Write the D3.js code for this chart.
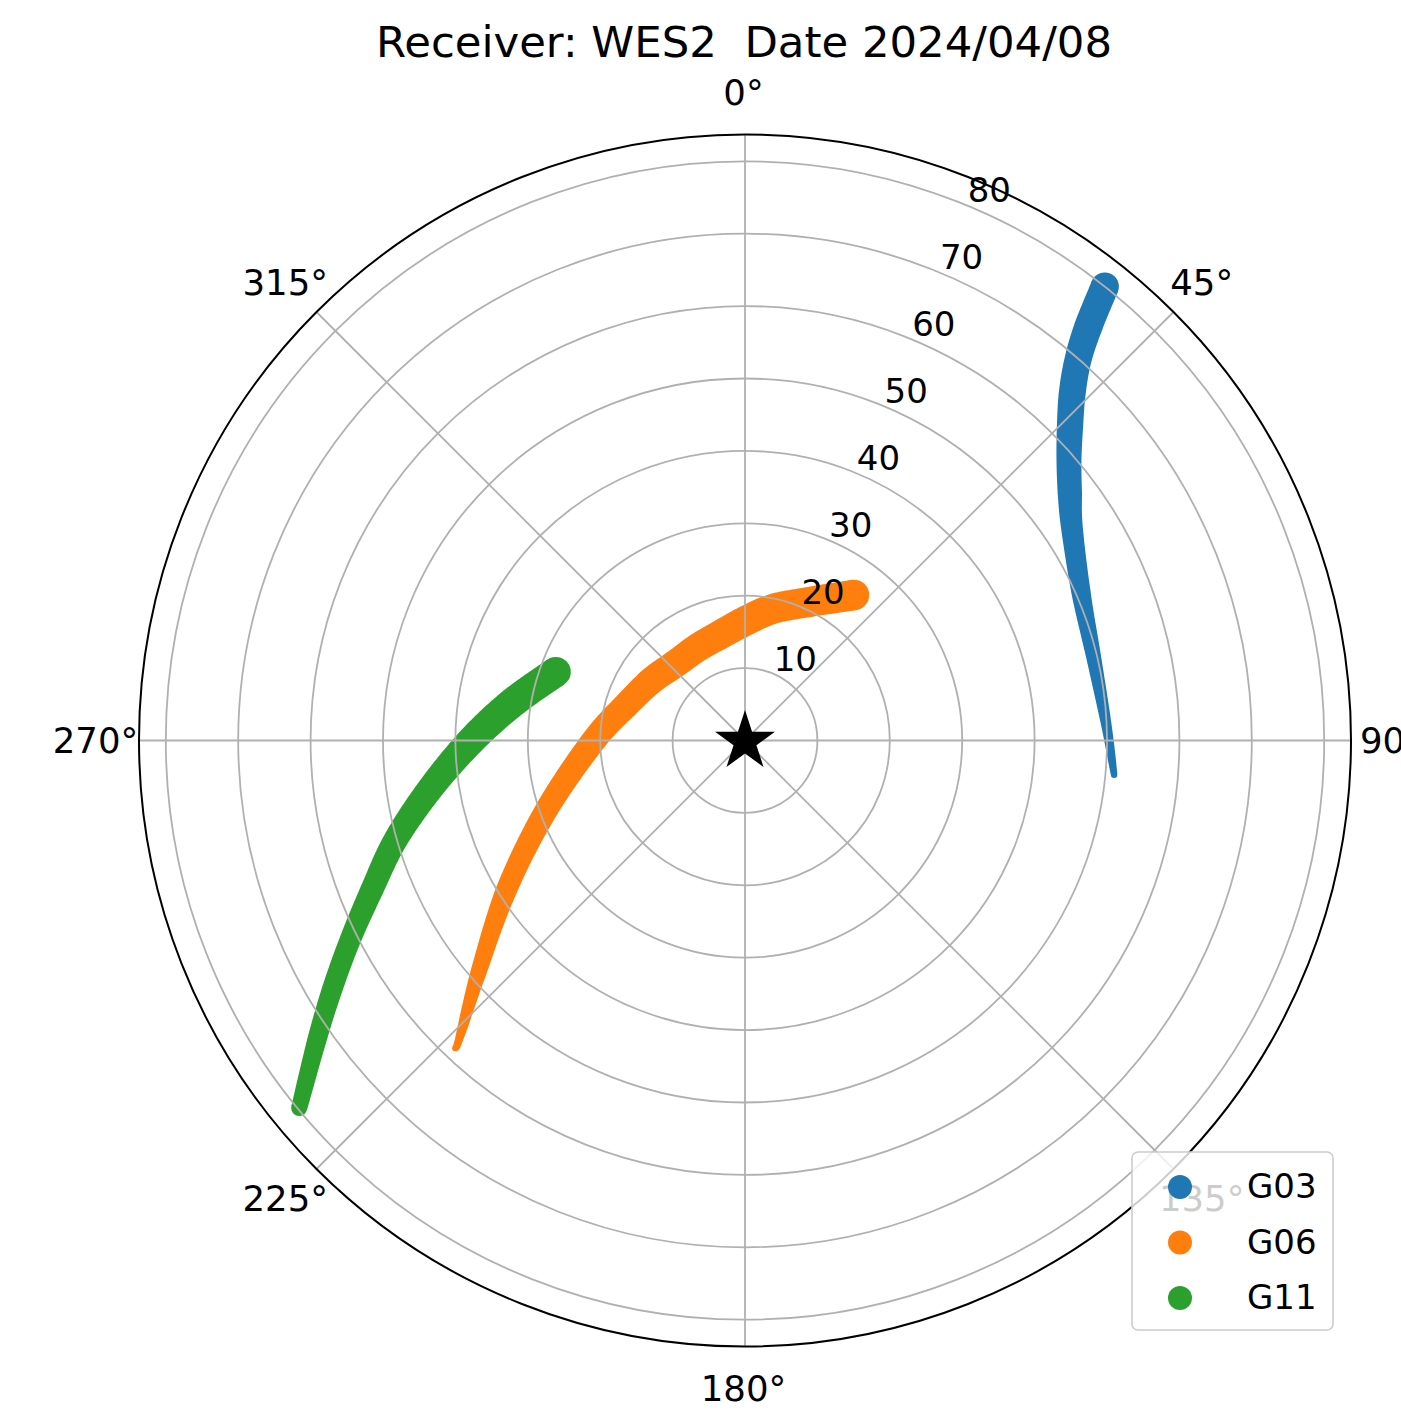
<!DOCTYPE html>
<html>
<head>
<meta charset="utf-8">
<script src="https://cdn.jsdelivr.net/npm/d3@7"></script>
<style>
  html, body { margin: 0; padding: 0; background: #fff; }
  svg { display: block; }
  text { font-family: "DejaVu Sans", sans-serif; }
</style>
</head>
<body>
<script>
// ---------- data ----------
const chartTitle = "Receiver: WES2  Date 2024/04/08";
const satellites = ["G03", "G06", "G11"];

// azimuth (deg, clockwise from north), radial value, signal strength (marker size)
const g03Az  = [38.4, 39.7, 41.2, 43.3, 46.0, 49.1, 52.7, 56.9, 66.3, 77.0, 87.9, 95.3];
const g03Rad = [80.0, 74.2, 69.8, 65.9, 62.4, 59.2, 56.4, 53.9, 50.7, 49.5, 50.0, 51.2];
const g03Snr = [44, 44, 42, 42, 41, 39, 38, 34, 30, 23, 16, 10];

const g06Az  = [36.8, 24.1, 12.1, 0.8, 346.7, 333.0, 318.0, 303.0, 288.0, 270.0, 250.5, 237.9, 228.9, 223.7, 223.3];
const g06Rad = [25.1, 20.9, 18.6, 16.6, 15.0, 14.4, 14.3, 15.3, 16.9, 20.9, 29.2, 38.9, 48.9, 57.2, 58.4];
const g06Snr = [48, 47, 47, 47, 46, 45, 44, 43, 41, 39, 36, 33, 25, 12.5, 9];

const g11Az  = [289.9, 279.1, 270.0, 261.4, 254.1, 248.2, 243.2, 238.9, 235.0, 230.5];
const g11Rad = [27.8, 32.6, 37.8, 43.9, 50.2, 55.5, 61.1, 66.6, 72.2, 79.8];
const g11Snr = [47, 47, 45, 41, 38, 36, 33, 32, 30, 25];

const radialTicks = [10, 20, 30, 40, 50, 60, 70, 80];
const angleTicks = [0, 45, 90, 135, 180, 225, 270, 315];
const radialMax = 83.7;

// ---------- layout ----------
const W = 1401, H = 1415;
const cx = 745, cy = 740.5, R = 606;
const colors = ["#1f77b4", "#ff7f0e", "#2ca02c"];

const svg = d3.select("body").append("svg").attr("width", W).attr("height", H);

const rScale = d3.scaleLinear().domain([0, radialMax]).range([0, R]);
const sizeScale = d3.scaleLinear().domain([0, 50]).range([0, 16]);
const toRad = d => d * Math.PI / 180;
const px = (az, r) => cx + rScale(r) * Math.sin(toRad(az));
const py = (az, r) => cy - rScale(r) * Math.cos(toRad(az));

const series = [
  { name: satellites[0], az: g03Az, rad: g03Rad, snr: g03Snr, color: colors[0] },
  { name: satellites[1], az: g06Az, rad: g06Rad, snr: g06Snr, color: colors[1] },
  { name: satellites[2], az: g11Az, rad: g11Rad, snr: g11Snr, color: colors[2] }
];

// ---------- tracks: variable-width smooth stroke through the markers ----------
function trackOutline(pts) {
  const samp = [];
  const n = pts.length;
  for (let i = 0; i < n - 1; i++) {
    const p0 = pts[Math.max(0, i - 1)], p1 = pts[i], p2 = pts[i + 1], p3 = pts[Math.min(n - 1, i + 2)];
    const steps = Math.max(4, Math.ceil(Math.hypot(p2.x - p1.x, p2.y - p1.y) / 2));
    for (let k = 0; k < steps; k++) {
      const t = k / steps, t2 = t * t, t3 = t2 * t;
      const f = (a, b, c, d) => 0.5 * (2 * b + (-a + c) * t + (2 * a - 5 * b + 4 * c - d) * t2 + (-a + 3 * b - 3 * c + d) * t3);
      samp.push({ x: f(p0.x, p1.x, p2.x, p3.x), y: f(p0.y, p1.y, p2.y, p3.y), r: p1.r + (p2.r - p1.r) * t });
    }
  }
  samp.push({ x: pts[n - 1].x, y: pts[n - 1].y, r: pts[n - 1].r });
  const left = [], right = [];
  samp.forEach((s, i) => {
    const a = samp[Math.max(0, i - 1)], b = samp[Math.min(samp.length - 1, i + 1)];
    const dx = b.x - a.x, dy = b.y - a.y;
    const L = Math.hypot(dx, dy) || 1;
    const nx = -dy / L, ny = dx / L;
    left.push([s.x + nx * s.r, s.y + ny * s.r]);
    right.push([s.x - nx * s.r, s.y - ny * s.r]);
  });
  return left.concat(right.reverse());
}

const gTracks = svg.append("g");
const outlineLine = d3.line().curve(d3.curveLinearClosed);
series.forEach(s => {
  const pts = s.az.map((a, i) => ({ x: px(a, s.rad[i]), y: py(a, s.rad[i]), r: sizeScale(s.snr[i]) }));
  const g = gTracks.append("g").attr("fill", s.color);
  g.append("path").attr("d", outlineLine(trackOutline(pts)));
  g.selectAll("circle").data([pts[0], pts[pts.length - 1]]).join("circle")
    .attr("cx", d => d.x).attr("cy", d => d.y).attr("r", d => d.r);
});

// ---------- grid ----------
const gGrid = svg.append("g").attr("fill", "none").attr("stroke", "#b0b0b0").attr("stroke-width", 1.8);
gGrid.selectAll("circle").data(radialTicks).join("circle")
  .attr("cx", cx).attr("cy", cy).attr("r", d => rScale(d));
gGrid.selectAll("line").data(angleTicks).join("line")
  .attr("x1", cx).attr("y1", cy)
  .attr("x2", d => px(d, radialMax)).attr("y2", d => py(d, radialMax));

// outer spine
svg.append("circle").attr("cx", cx).attr("cy", cy).attr("r", rScale(radialMax))
  .attr("fill", "none").attr("stroke", "#000").attr("stroke-width", 2);

// ---------- receiver star ----------
const starR = 31.5, starRi = starR * 0.381966;
const starPts = d3.range(10).map(i => {
  const ang = -Math.PI / 2 + i * Math.PI / 5;
  const rr = i % 2 === 0 ? starR : starRi;
  return [cx + rr * Math.cos(ang), cy + 1 + rr * Math.sin(ang)];
});
svg.append("polygon").attr("points", starPts.map(p => p.join(",")).join(" ")).attr("fill", "#000");

// ---------- labels ----------
const labelR = 648;
svg.append("g").selectAll("text").data(angleTicks).join("text")
  .attr("x", d => cx - 1.5 + labelR * Math.sin(toRad(d)))
  .attr("y", d => cy - labelR * Math.cos(toRad(d)))
  .attr("text-anchor", "middle").attr("dominant-baseline", "central")
  .attr("font-size", 35.5).attr("fill", "#000")
  .text(d => d + "°");

svg.append("g").selectAll("text").data(radialTicks).join("text")
  .attr("x", d => px(22.5, d) + 1)
  .attr("y", d => py(22.5, d) - 3)
  .attr("text-anchor", "start")
  .attr("font-size", 34).attr("fill", "#000")
  .text(d => d);

svg.append("text").attr("x", 744).attr("y", 57).attr("text-anchor", "middle")
  .attr("font-size", 43.4).style("white-space", "pre").text(chartTitle);

// ---------- legend ----------
const lg = svg.append("g");
lg.append("rect").attr("x", 1132).attr("y", 1152).attr("width", 201).attr("height", 178)
  .attr("rx", 6).attr("fill", "#fff").attr("fill-opacity", 0.8)
  .attr("stroke", "#cccccc").attr("stroke-width", 1.6);
const items = lg.selectAll("g.item").data(series).join("g").attr("class", "item")
  .attr("transform", (d, i) => `translate(0, ${1186 + i * 55.5})`);
items.append("circle").attr("cx", 1180).attr("cy", 1).attr("r", 12).attr("fill", d => d.color);
items.append("text").attr("x", 1247).attr("y", 0).attr("dominant-baseline", "central")
  .attr("font-size", 34).text(d => d.name);
</script>
</body>
</html>
